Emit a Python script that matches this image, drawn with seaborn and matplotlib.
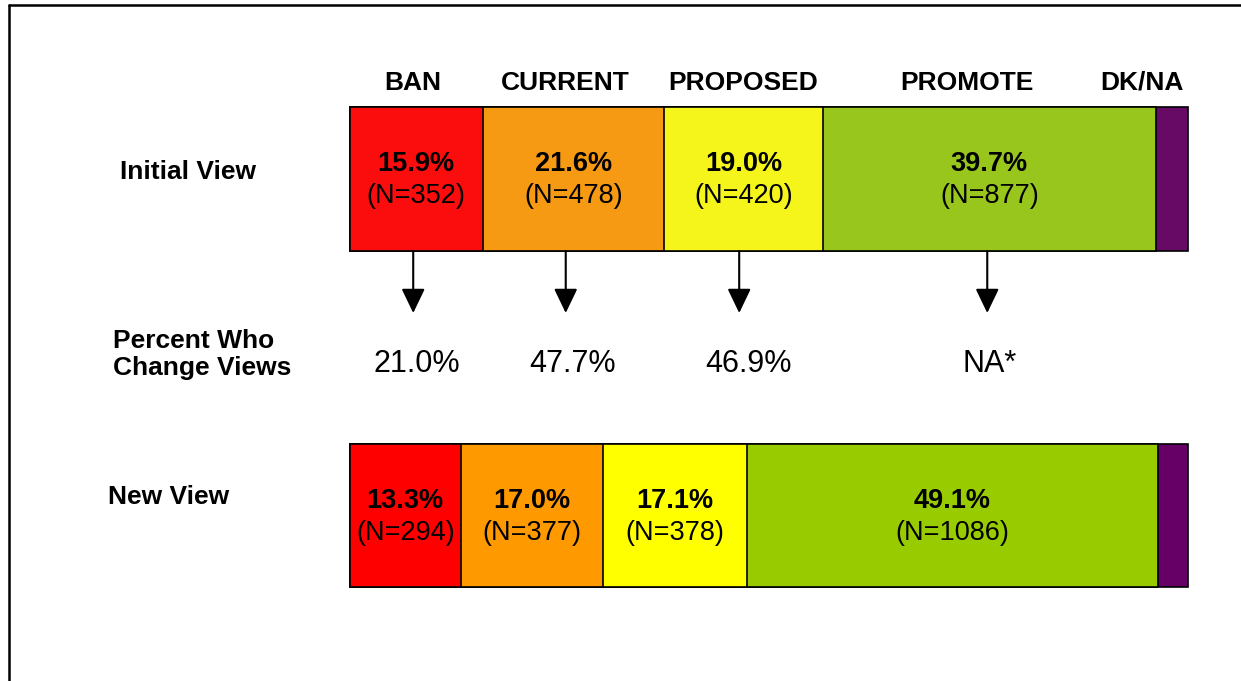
import pandas as pd
import matplotlib.pyplot as plt
import seaborn as sns
from matplotlib.lines import Line2D

# datos
categorias = ['BAN', 'CURRENT', 'PROPOSED', 'PROMOTE', 'DK/NA']
vistas = ['Initial View', 'New View']
pct_inicial = [15.9, 21.6, 19.0, 39.7, 3.8]
pct_nuevo = [13.3, 17.0, 17.1, 49.1, 3.5]
n_inicial = [352, 478, 420, 877]
n_nuevo = [294, 377, 378, 1086]
cambio = ['21.0%', '47.7%', '46.9%', 'NA*']

colores_inicial = ['#fb0d0d', '#f59a12', '#f5f51c', '#98c61c', '#660a66']
colores_nuevo = ['#ff0000', '#ff9900', '#ffff00', '#99cc00', '#660066']

sns.set_theme(style='white')
plt.rcParams['font.family'] = ['Liberation Sans', 'DejaVu Sans']

fig = plt.figure(figsize=(12.41, 6.81), dpi=100)
ax = fig.add_axes([0, 0, 1, 1])

# barras apiladas: se dibujan los acumulados de mayor a menor
filas = []
for vista, valores in zip(vistas, [pct_inicial, pct_nuevo]):
    acum = pd.Series(valores).cumsum()
    for i, cat in enumerate(categorias):
        filas.append({'vista': vista, 'cat': cat, 'valor': valores[i], 'acum': acum[i]})
datos = pd.DataFrame(filas)

for i in reversed(range(len(categorias))):
    sub = datos[datos['cat'] == categorias[i]]
    sns.barplot(data=sub, x='acum', y='vista', hue='vista', order=vistas,
                palette={vistas[0]: colores_inicial[i], vistas[1]: colores_nuevo[i]},
                orient='h', width=0.425, edgecolor='black', linewidth=1.2,
                legend=False, saturation=1, ax=ax)

# etiquetas dentro de las barras
for fila, (valores, ns) in enumerate([(pct_inicial, n_inicial), (pct_nuevo, n_nuevo)]):
    inicio = 0
    for v, n in zip(valores, ns):
        centro = inicio + v / 2
        ax.text(centro, fila - 0.045, f'{v:.1f}%', ha='center', va='center',
                fontsize=19.5, fontweight='bold', color='black')
        ax.text(centro, fila + 0.05, f'(N={n})', ha='center', va='center',
                fontsize=19.5, color='black')
        inicio += v

# encabezados de categorias
x_encabezado = [7.6, 25.7, 47.0, 73.7, 94.6]
for x, cat in zip(x_encabezado, categorias):
    ax.text(x, -0.285, cat, ha='center', va='center', fontsize=19,
            fontweight='bold', color='black')

# etiquetas de filas
ax.text(-27.4, -0.021, 'Initial View', ha='left', va='center', fontsize=19,
        fontweight='bold', color='black')
ax.text(-28.8, 0.944, 'New View', ha='left', va='center', fontsize=19,
        fontweight='bold', color='black')
ax.text(-28.2, 0.522, 'Percent Who\nChange Views', ha='left', va='center',
        fontsize=19, fontweight='bold', color='black', linespacing=1.14)

# flechas y porcentaje que cambia de opinion
x_flecha = [7.6, 25.8, 46.5, 76.1]
x_cambio = [8.0, 26.6, 47.6, 76.4]
for xf, xc, txt in zip(x_flecha, x_cambio, cambio):
    ax.annotate('', xy=(xf, 0.398), xytext=(xf, 0.214),
                arrowprops=dict(arrowstyle='-|>,head_length=1.0,head_width=0.48',
                                color='black', lw=1.5, mutation_scale=15,
                                shrinkA=0, shrinkB=0))
    ax.text(xc, 0.549, txt, ha='center', va='center', fontsize=22, color='black')

ax.set_xlim(-41.71, 106.38)
ax.set_ylim(1.490, -0.531)
ax.axis('off')

# marco superior e izquierdo
fig.add_artist(Line2D([0.0073, 0.0073], [0, 0.9927], color='black', lw=1.8))
fig.add_artist(Line2D([0.0073, 1], [0.9927, 0.9927], color='black', lw=1.8))

fig.savefig('out.png', dpi=100, facecolor='white')
